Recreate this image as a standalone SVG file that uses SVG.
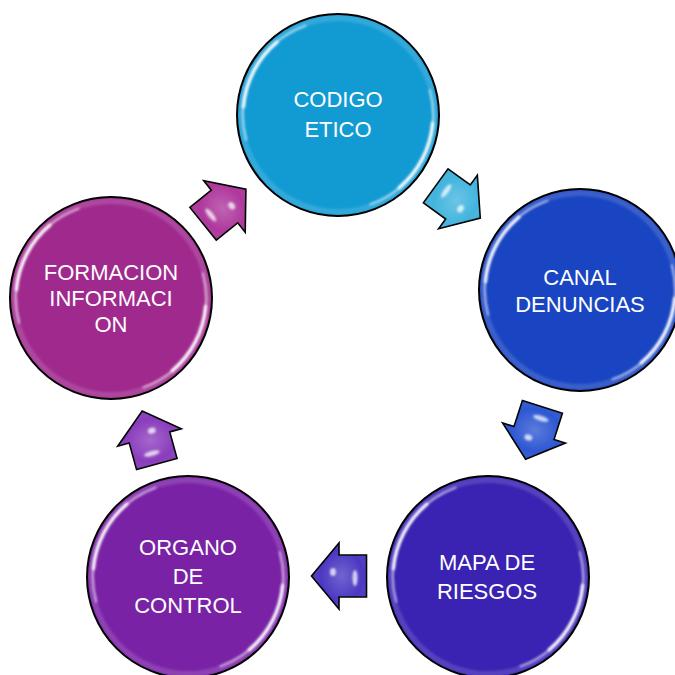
<svg xmlns="http://www.w3.org/2000/svg" width="675" height="675" viewBox="0 0 675 675">
<style>
.edge{fill:none;stroke:#000;stroke-width:2}
.hl1{fill:none;stroke:#fff;stroke-width:2.2;stroke-opacity:0.55;stroke-linecap:round}
.hl2{fill:none;stroke:#fff;stroke-width:3.5;stroke-opacity:0.9;stroke-linecap:round}
.ring{fill:none;stroke:#fff;stroke-width:6;stroke-opacity:0.14}
.lbl{font-family:"Liberation Sans",Arial,sans-serif;font-size:22px;fill:#fff;text-anchor:middle}
.arr{stroke:#000;stroke-width:1.6;stroke-linejoin:miter}
.ahl{fill:#fff;fill-opacity:0.75}
</style>
<defs>
<filter id="soft" x="-20%" y="-20%" width="140%" height="140%"><feGaussianBlur stdDeviation="1.3"/></filter>
<filter id="soft2" x="-50%" y="-50%" width="200%" height="200%"><feGaussianBlur stdDeviation="1"/></filter>
<path id="hla" d="M-91.8,24.6 A95,95 0 0 1 -32.5,-89.3 M91.8,-24.6 A95,95 0 0 1 32.5,89.3"/>
<path id="hlb" d="M-94.6,-8.3 A95,95 0 0 1 -61.1,-72.8 M94.6,8.3 A95,95 0 0 1 61.1,72.8"/>
<path id="arr" d="M-27.5,-21 L0,-21 L0,-33 L27.5,0 L0,33 L0,21 L-27.5,21 Z"/>
<radialGradient id="ashade" cx="0.45" cy="0.5" r="0.6">
<stop offset="0" stop-color="#fff" stop-opacity="0.22"/>
<stop offset="0.65" stop-color="#fff" stop-opacity="0"/>
<stop offset="1" stop-color="#000" stop-opacity="0.18"/>
</radialGradient>
<g id="ahls" filter="url(#soft2)">
<ellipse class="ahl" cx="-16" cy="-2" rx="2.5" ry="8"/>
<ellipse class="ahl" cx="6" cy="4" rx="3" ry="4"/>
</g>
</defs>
<rect width="675" height="675" fill="#fff"/>

<g id="connectors">
<g id="c1" transform="translate(458,202) rotate(35.9)">
<use href="#arr" class="arr" fill="#42B4DE"/><use href="#arr" fill="url(#ashade)"/><use href="#ahls"/>
</g>
<g id="c2" transform="translate(534,433) rotate(107.8)">
<use href="#arr" class="arr" fill="#2D57D2"/><use href="#arr" fill="url(#ashade)"/><use href="#ahls"/>
</g>
<g id="c3" transform="translate(339,576) rotate(180)">
<use href="#arr" class="arr" fill="#4A38C2"/><use href="#arr" fill="url(#ashade)"/><use href="#ahls"/>
</g>
<g id="c4" transform="translate(149.5,437.5) rotate(-105.4)">
<use href="#arr" class="arr" fill="#8A3CBC"/><use href="#arr" fill="url(#ashade)"/><use href="#ahls"/>
</g>
<g id="c5" transform="translate(224.5,206.5) rotate(-38.9)">
<use href="#arr" class="arr" fill="#AE379C"/><use href="#arr" fill="url(#ashade)"/><use href="#ahls"/>
</g>
</g>

<g id="n1">
<circle cx="338" cy="115" r="101" fill="#129BD3"/>
<g transform="translate(338,115)" filter="url(#soft)">
<circle r="97" class="ring"/><use href="#hla" class="hl1"/><use href="#hlb" class="hl2"/>
</g>
<circle cx="338" cy="115" r="101" class="edge"/>
<text class="lbl" x="338" y="107">CODIGO</text>
<text class="lbl" x="338" y="137">ETICO</text>
</g>

<g id="n2">
<circle cx="580" cy="290" r="101" fill="#1A45C2"/>
<g transform="translate(580,290)" filter="url(#soft)">
<circle r="97" class="ring"/><use href="#hla" class="hl1"/><use href="#hlb" class="hl2"/>
</g>
<circle cx="580" cy="290" r="101" class="edge"/>
<text class="lbl" x="580" y="285">CANAL</text>
<text class="lbl" x="580" y="312">DENUNCIAS</text>
</g>

<g id="n3">
<circle cx="488" cy="577" r="101" fill="#3A22B2"/>
<g transform="translate(488,577)" filter="url(#soft)">
<circle r="97" class="ring"/><use href="#hla" class="hl1"/><use href="#hlb" class="hl2"/>
</g>
<circle cx="488" cy="577" r="101" class="edge"/>
<text class="lbl" x="487" y="570">MAPA DE</text>
<text class="lbl" x="487" y="599">RIESGOS</text>
</g>

<g id="n4">
<circle cx="188" cy="577" r="101" fill="#7A22A6"/>
<g transform="translate(188,577)" filter="url(#soft)">
<circle r="97" class="ring"/><use href="#hla" class="hl1"/><use href="#hlb" class="hl2"/>
</g>
<circle cx="188" cy="577" r="101" class="edge"/>
<text class="lbl" x="188" y="555">ORGANO</text>
<text class="lbl" x="188" y="584">DE</text>
<text class="lbl" x="188" y="613">CONTROL</text>
</g>

<g id="n5">
<circle cx="111" cy="298" r="101" fill="#A0298E"/>
<g transform="translate(111,298)" filter="url(#soft)">
<circle r="97" class="ring"/><use href="#hla" class="hl1"/><use href="#hlb" class="hl2"/>
</g>
<circle cx="111" cy="298" r="101" class="edge"/>
<text class="lbl" x="111" y="280">FORMACION</text>
<text class="lbl" x="111" y="306">INFORMACI</text>
<text class="lbl" x="111" y="332">ON</text>
</g>
</svg>
